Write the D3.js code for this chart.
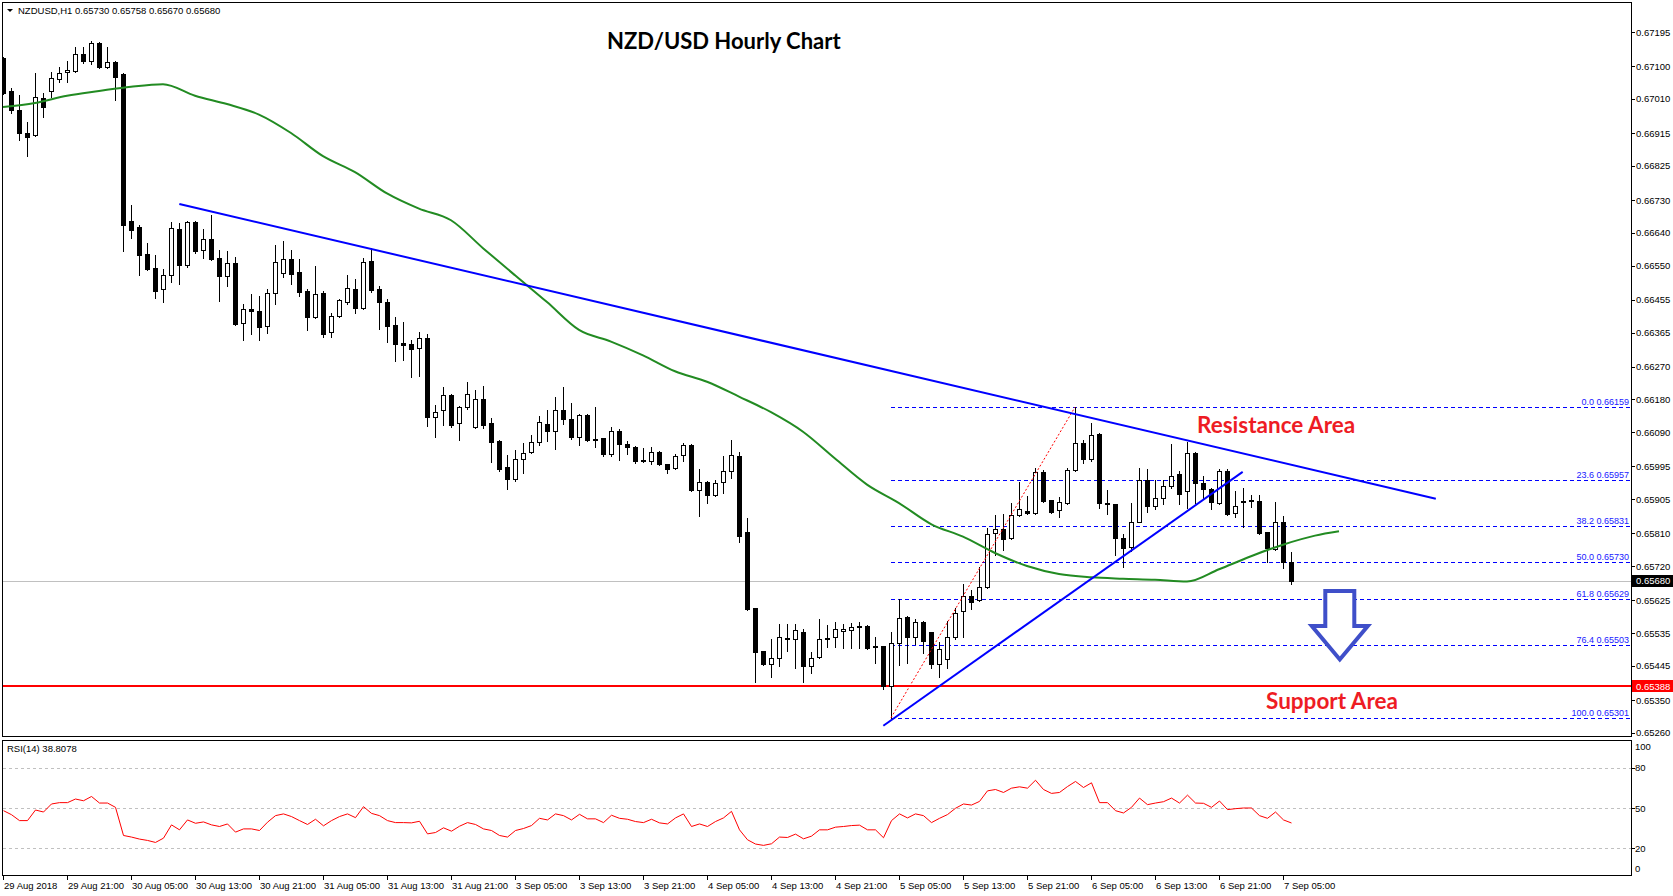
<!DOCTYPE html>
<html>
<head>
<meta charset="utf-8">
<script src="https://cdn.jsdelivr.net/npm/d3@7"></script>
<style>
    body { margin: 0; background: #fff; }
    svg { display: block; }
    text { font-family: "Liberation Sans", Arial, sans-serif; }
</style>
</head>
<body>
<div id="plot"></div>
<script>
/* Step 1
 * Data
 */
// =================================
var opens = [0.67123,0.67032,0.66979,0.66916,0.66910,0.67012,0.67032,0.67065,0.67084,0.67087,
    0.67134,0.67115,0.67164,0.67098,0.67112,0.67079,0.66673,0.66656,0.66581,0.66543,
    0.66485,0.66523,0.66650,0.66551,0.66670,0.66593,0.66623,0.66570,0.66521,0.66557,
    0.66391,0.66430,0.66424,0.66383,0.66474,0.66529,0.66568,0.66532,0.66479,0.66407,
    0.66474,0.66366,0.66410,0.66449,0.66485,0.66432,0.66562,0.66485,0.66449,0.66385,
    0.66336,0.66333,0.66322,0.66349,0.66131,0.66151,0.66192,0.66115,0.66159,0.66104,
    0.66181,0.66115,0.66065,0.65993,0.65960,0.66015,0.66035,0.66062,0.66112,0.66093,
    0.66151,0.66126,0.66076,0.66137,0.66071,0.66073,0.66029,0.66093,0.66057,0.66048,
    0.66013,0.66010,0.66035,0.66002,0.65991,0.66026,0.66054,0.65930,0.65952,0.65916,
    0.65952,0.65982,0.66024,0.65814,0.65604,0.65485,0.65449,0.65466,0.65521,0.65518,
    0.65537,0.65444,0.65468,0.65521,0.65524,0.65540,0.65543,0.65551,0.65554,0.65496,
    0.65499,0.65388,0.65507,0.65579,0.65524,0.65565,0.65537,0.65449,0.65463,0.65524,
    0.65595,0.65637,0.65626,0.65662,0.65811,0.65822,0.65797,0.65861,0.65872,0.65866,
    0.65979,0.65902,0.65874,0.65893,0.65985,0.66059,0.66015,0.66084,0.65894,0.65891,
    0.65797,0.65772,0.65843,0.65958,0.65885,0.65908,0.65941,0.65974,0.65927,0.66032,
    0.65949,0.65932,0.65894,0.65982,0.65866,0.65899,0.65902,0.65899,0.65814,0.65767,
    0.65841,0.65730];
var highs = [0.67126,0.67040,0.67021,0.66946,0.67081,0.67026,0.67084,0.67098,0.67115,0.67153,
    0.67153,0.67170,0.67167,0.67153,0.67115,0.67082,0.66717,0.66662,0.66612,0.66579,
    0.66540,0.66670,0.66667,0.66673,0.66673,0.66650,0.66689,0.66593,0.66590,0.66573,
    0.66443,0.66471,0.66465,0.66485,0.66606,0.66617,0.66593,0.66568,0.66485,0.66548,
    0.66479,0.66418,0.66457,0.66523,0.66512,0.66570,0.66598,0.66493,0.66457,0.66407,
    0.66394,0.66344,0.66366,0.66361,0.66164,0.66214,0.66195,0.66162,0.66228,0.66206,
    0.66217,0.66128,0.66068,0.66026,0.66040,0.66059,0.66082,0.66134,0.66151,0.66186,
    0.66214,0.66170,0.66140,0.66140,0.66159,0.66073,0.66104,0.66098,0.66065,0.66051,
    0.66046,0.66048,0.66037,0.66002,0.66029,0.66059,0.66057,0.65988,0.65954,0.65958,
    0.66024,0.66068,0.66035,0.65852,0.65604,0.65485,0.65518,0.65560,0.65560,0.65560,
    0.65546,0.65482,0.65573,0.65557,0.65565,0.65560,0.65562,0.65565,0.65557,0.65524,
    0.65499,0.65537,0.65629,0.65582,0.65573,0.65568,0.65537,0.65510,0.65568,0.65604,
    0.65670,0.65653,0.65717,0.65825,0.65861,0.65863,0.65894,0.65952,0.65913,0.65990,
    0.65985,0.65902,0.65910,0.65990,0.66159,0.66068,0.66115,0.66087,0.65930,0.65891,
    0.65808,0.65894,0.65990,0.65988,0.65958,0.65958,0.66057,0.65982,0.66062,0.66035,
    0.65968,0.65935,0.65988,0.65988,0.65927,0.65935,0.65916,0.65916,0.65814,0.65896,
    0.65858,0.65758];
var lows = [0.67023,0.66971,0.66896,0.66852,0.66908,0.66960,0.67015,0.67057,0.67057,0.67084,
    0.67109,0.67106,0.67095,0.67095,0.67007,0.66590,0.66626,0.66523,0.66537,0.66460,
    0.66449,0.66504,0.66499,0.66546,0.66585,0.66570,0.66565,0.66452,0.66493,0.66385,
    0.66344,0.66361,0.66344,0.66363,0.66443,0.66518,0.66499,0.66465,0.66372,0.66405,
    0.66352,0.66352,0.66407,0.66443,0.66418,0.66430,0.66476,0.66374,0.66338,0.66286,
    0.66289,0.66242,0.66244,0.66106,0.66076,0.66109,0.66104,0.66068,0.66153,0.66101,
    0.66101,0.66007,0.65982,0.65932,0.65954,0.65977,0.66032,0.66054,0.66065,0.66043,
    0.66112,0.66070,0.66054,0.66065,0.66048,0.66024,0.66024,0.66013,0.66029,0.66005,
    0.66008,0.66002,0.66000,0.65977,0.65988,0.66010,0.65927,0.65858,0.65894,0.65913,
    0.65921,0.65963,0.65786,0.65598,0.65399,0.65446,0.65413,0.65444,0.65485,0.65438,
    0.65399,0.65424,0.65466,0.65496,0.65496,0.65493,0.65493,0.65493,0.65490,0.65452,
    0.65380,0.65301,0.65446,0.65452,0.65504,0.65479,0.65438,0.65413,0.65438,0.65518,
    0.65524,0.65601,0.65623,0.65659,0.65750,0.65764,0.65794,0.65858,0.65863,0.65863,
    0.65896,0.65866,0.65855,0.65891,0.65982,0.66004,0.66010,0.65880,0.65863,0.65750,
    0.65717,0.65761,0.65841,0.65869,0.65877,0.65891,0.65935,0.65891,0.65880,0.65894,
    0.65905,0.65877,0.65891,0.65861,0.65855,0.65827,0.65883,0.65808,0.65731,0.65764,
    0.65714,0.65670];
var closes = [0.67026,0.66979,0.66916,0.66905,0.67015,0.66987,0.67068,0.67081,0.67090,0.67134,
    0.67115,0.67164,0.67098,0.67112,0.67070,0.66662,0.66648,0.66579,0.66540,0.66479,
    0.66523,0.66653,0.66551,0.66670,0.66590,0.66623,0.66568,0.66521,0.66557,0.66388,
    0.66430,0.66424,0.66380,0.66474,0.66559,0.66568,0.66526,0.66476,0.66407,0.66471,
    0.66361,0.66410,0.66454,0.66488,0.66432,0.66559,0.66482,0.66449,0.66383,0.66333,
    0.66330,0.66319,0.66349,0.66131,0.66145,0.66192,0.66109,0.66159,0.66195,0.66181,
    0.66109,0.66062,0.65988,0.65960,0.66015,0.66032,0.66062,0.66117,0.66093,0.66151,
    0.66126,0.66076,0.66137,0.66068,0.66070,0.66029,0.66093,0.66057,0.66048,0.66010,
    0.66010,0.66035,0.66002,0.65988,0.66024,0.66054,0.65930,0.65952,0.65916,0.65949,
    0.65982,0.66026,0.65803,0.65601,0.65482,0.65449,0.65466,0.65524,0.65518,0.65543,
    0.65444,0.65466,0.65518,0.65518,0.65546,0.65546,0.65551,0.65554,0.65493,0.65499,
    0.65388,0.65507,0.65576,0.65524,0.65565,0.65513,0.65449,0.65490,0.65524,0.65590,
    0.65637,0.65620,0.65662,0.65808,0.65822,0.65796,0.65861,0.65877,0.65866,0.65979,
    0.65899,0.65869,0.65896,0.65985,0.66059,0.66015,0.66082,0.65894,0.65891,0.65797,
    0.65770,0.65843,0.65958,0.65885,0.65908,0.65941,0.65968,0.65919,0.66032,0.65949,
    0.65932,0.65896,0.65982,0.65863,0.65885,0.65896,0.65899,0.65811,0.65770,0.65841,
    0.65731,0.65680];

// moving average (green), read every 4 bars, drawn shifted forward
var maBars = [0,4,8,12,16,20,24,28,32,36,40,44,48,52,56,60,64,68,72,76,80,84,
    88,92,96,100,104,108,112,116,120,124,128,132,136,140,144,148,152,156,160,164,167];
var maValues = [0.66988,0.66999,0.67019,0.67032,0.67044,0.67051,0.67019,0.66996,0.66967,0.66916,
    0.66852,0.66808,0.66749,0.66707,0.66675,0.66598,0.66523,0.66449,0.66372,0.66340,
    0.66302,0.66258,0.66229,0.66188,0.66145,0.66091,0.66017,0.65945,0.65894,0.65836,
    0.65801,0.65756,0.65720,0.65698,0.65689,0.65685,0.65682,0.65677,0.65711,0.65747,
    0.65779,0.65804,0.65816];

var rsiValues = [48,45,40.6,40.6,48.5,47,53,54,54,56.7,
    55.4,58.6,53.7,53.7,50.5,29.5,28.3,26.8,25.8,24.3,
    27.5,37.4,33.7,41.1,38.6,39.6,37.4,36.2,38.1,32,
    34.4,34.4,33.2,39.4,44.3,45.6,43.6,40.6,37.7,41.6,
    36.7,40.6,43.6,45.6,42.8,51,46,44.3,40.6,39.1,
    39.1,38.9,40.1,30.7,31.7,35.2,32.7,36.4,39.1,37.7,
    34.4,33.2,29.5,28.3,33.2,34.7,36.9,42.3,41.1,45.6,
    44.3,41.1,45.3,41.9,41.9,39.1,44.6,42.3,41.6,39.9,
    39.1,41.6,38.9,38.1,42.6,45.6,36.2,38.1,36.2,39.9,
    42.6,47.5,33.7,26.3,23.1,22.1,23.3,28.3,28,30.5,
    27,29,33.7,33.7,35.7,36.2,36.9,37.2,33.7,33.7,
    27.8,40.6,45.6,42.6,45.6,44.3,39.1,42.3,45.1,49.8,
    53,52.2,54.9,62.8,63.8,61.6,64.8,65.8,64.8,70.7,
    63.8,60.9,61.6,66,69.8,65.3,68.8,54,54,48,
    46.3,50.5,57.4,52.5,53.7,54.7,57.4,53.7,59.6,53.7,
    53.5,50.5,55.2,48.8,49.5,50,50,44.3,42.3,47,
    41.1,38.8078];

var timeLabels = ["29 Aug 2018","29 Aug 21:00","30 Aug 05:00","30 Aug 13:00","30 Aug 21:00",
    "31 Aug 05:00","31 Aug 13:00","31 Aug 21:00","3 Sep 05:00","3 Sep 13:00","3 Sep 21:00",
    "4 Sep 05:00","4 Sep 13:00","4 Sep 21:00","5 Sep 05:00","5 Sep 13:00","5 Sep 21:00",
    "6 Sep 05:00","6 Sep 13:00","6 Sep 21:00","7 Sep 05:00"];
var priceTicks = [0.67195,0.67100,0.67010,0.66915,0.66825,0.66730,0.66640,0.66550,0.66455,
    0.66365,0.66270,0.66180,0.66090,0.65995,0.65905,0.65810,0.65720,0.65625,0.65535,
    0.65445,0.65350,0.65260];
var rsiLevels = [80, 50, 20];
var rsiLabels = [100, 80, 50, 20, 0];

var fibPct = ["0.0","23.6","38.2","50.0","61.8","76.4","100.0"];
var fibPrices = [0.66159,0.65957,0.65831,0.65730,0.65629,0.65503,0.65301];

var lastPrice = 0.65680;
var supportPrice = 0.65388;
var resistanceLine = [[22.04, 0.66720], [179.1, 0.65906]];
var risingLine = [[110.04, 0.65279], [154.96, 0.65980]];
var fibSwing = [[111, 0.65301], [134, 0.66159]];

/* Step 2
 * Workspace
 */
// =================================
var svgWidth = 1673;
var svgHeight = 896;
var chartLeft = 2, chartRight = 1631;
var mainTop = 2, mainBottom = 737;
var rsiTop = 740, rsiBottom = 875;

var svg = d3.select("#plot")
    .append("svg")
    .attr("width", svgWidth)
    .attr("height", svgHeight);

svg.append("defs").append("clipPath").attr("id", "mainClip")
    .append("rect")
    .attr("x", chartLeft + 1).attr("y", mainTop + 1)
    .attr("width", chartRight - chartLeft - 1).attr("height", mainBottom - mainTop - 1);

// scales
var xScale = d3.scaleLinear().domain([0, 160]).range([3, 1283]);
var yScale = d3.scaleLinear().domain([0.65350, 0.67195]).range([700, 32]);
var rsiScale = d3.scaleLinear().domain([0, 100]).range([875, 741]);

function px(v) { return Math.round(v) + 0.5; }

/* Step 3
 * Frames and axes
 */
// =================================
svg.append("rect")
    .attr("x", chartLeft + 0.5).attr("y", mainTop + 0.5)
    .attr("width", chartRight - chartLeft).attr("height", mainBottom - mainTop - 1)
    .attr("fill", "none").attr("stroke", "#000");
svg.append("rect")
    .attr("x", chartLeft + 0.5).attr("y", rsiTop + 0.5)
    .attr("width", chartRight - chartLeft).attr("height", rsiBottom - rsiTop)
    .attr("fill", "none").attr("stroke", "#000");

var priceAxis = svg.append("g");
priceAxis.selectAll("line")
    .data(priceTicks).enter().append("line")
    .attr("x1", chartRight).attr("x2", chartRight + 4)
    .attr("y1", d => px(yScale(d))).attr("y2", d => px(yScale(d)))
    .attr("stroke", "#000");
priceAxis.selectAll("text")
    .data(priceTicks).enter().append("text")
    .attr("x", chartRight + 5)
    .attr("y", d => yScale(d) + 3.5)
    .attr("font-size", "9.5px")
    .text(d => d.toFixed(5));

var rsiAxis = svg.append("g");
rsiAxis.selectAll("line")
    .data(rsiLevels).enter().append("line")
    .attr("x1", chartRight).attr("x2", chartRight + 4)
    .attr("y1", d => px(rsiScale(d))).attr("y2", d => px(rsiScale(d)))
    .attr("stroke", "#000");
rsiAxis.selectAll("text")
    .data(rsiLabels).enter().append("text")
    .attr("x", chartRight + 4)
    .attr("y", d => Math.max(rsiTop + 6, Math.min(rsiBottom - 7, rsiScale(d))) + 3.5)
    .attr("font-size", "9.5px")
    .text(d => d);

var timeAxis = svg.append("g");
timeAxis.selectAll("line")
    .data(timeLabels).enter().append("line")
    .attr("x1", (d, i) => px(xScale(i * 8))).attr("x2", (d, i) => px(xScale(i * 8)))
    .attr("y1", rsiBottom).attr("y2", rsiBottom + 5)
    .attr("stroke", "#000");
timeAxis.selectAll("text")
    .data(timeLabels).enter().append("text")
    .attr("x", (d, i) => xScale(i * 8) + 1)
    .attr("y", 889)
    .attr("font-size", "9.5px")
    .text(d => d);

/* Step 4
 * Price panel: levels, candles, moving average, objects
 */
// =================================
var main = svg.append("g").attr("clip-path", "url(#mainClip)");

// current price line
main.append("line")
    .attr("x1", chartLeft).attr("x2", chartRight)
    .attr("y1", px(yScale(lastPrice))).attr("y2", px(yScale(lastPrice)))
    .attr("stroke", "#c0c0c0");

// fibonacci levels
var fibStart = xScale(fibSwing[0][0]);
main.selectAll(".fib")
    .data(fibPrices).enter().append("line")
    .attr("x1", fibStart).attr("x2", chartRight)
    .attr("y1", d => px(yScale(d))).attr("y2", d => px(yScale(d)))
    .attr("stroke", "#0000ff")
    .attr("stroke-dasharray", "4,3");
main.selectAll(".fibText")
    .data(fibPrices).enter().append("text")
    .attr("x", chartRight - 2)
    .attr("y", d => yScale(d) - 2)
    .attr("text-anchor", "end")
    .attr("font-size", "9px")
    .attr("fill", "#2020ff")
    .text((d, i) => fibPct[i] + " " + d.toFixed(5));

// support level
main.append("line")
    .attr("x1", chartLeft).attr("x2", chartRight)
    .attr("y1", Math.round(yScale(supportPrice))).attr("y2", Math.round(yScale(supportPrice)))
    .attr("stroke", "#ff0000").attr("stroke-width", 2);

// candles
var bars = d3.range(opens.length);
var candles = main.append("g").selectAll("g")
    .data(bars).enter().append("g");
candles.append("line")
    .attr("x1", i => px(xScale(i))).attr("x2", i => px(xScale(i)))
    .attr("y1", i => Math.round(yScale(highs[i])))
    .attr("y2", i => Math.round(yScale(lows[i])) + 1)
    .attr("stroke", "#000");
candles.append("rect")
    .attr("x", i => px(xScale(i)) - 2)
    .attr("width", 4)
    .attr("y", i => px(yScale(Math.max(opens[i], closes[i]))))
    .attr("height", i => Math.max(1, Math.round(yScale(Math.min(opens[i], closes[i]))) - Math.round(yScale(Math.max(opens[i], closes[i])))))
    .attr("fill", i => closes[i] < opens[i] ? "#000" : "#fff")
    .attr("stroke", "#000");

// moving average
var maLine = d3.line()
    .x((d, i) => xScale(maBars[i]))
    .y(d => yScale(d))
    .curve(d3.curveMonotoneX);
main.append("path")
    .attr("d", maLine(maValues))
    .attr("fill", "none")
    .attr("stroke", "#228b22")
    .attr("stroke-width", 2);

// trend lines
var objLine = d3.line().x(d => xScale(d[0])).y(d => yScale(d[1]));
main.append("path").attr("d", objLine(fibSwing))
    .attr("fill", "none").attr("stroke", "#ff0000").attr("stroke-dasharray", "2,2");
main.append("path").attr("d", objLine(resistanceLine))
    .attr("fill", "none").attr("stroke", "#0000ff").attr("stroke-width", 2);
main.append("path").attr("d", objLine(risingLine))
    .attr("fill", "none").attr("stroke", "#0000ff").attr("stroke-width", 2);

// down arrow
var arrowX = xScale(167.1), arrowTopY = yScale(0.65651), arrowTipY = yScale(0.65462);
var arrowNeck = arrowTopY + (arrowTipY - arrowTopY) * 0.51;
var arrowPts = [[arrowX - 14.5, arrowTopY], [arrowX + 14.5, arrowTopY], [arrowX + 14.5, arrowNeck],
    [arrowX + 28, arrowNeck], [arrowX, arrowTipY], [arrowX - 28, arrowNeck], [arrowX - 14.5, arrowNeck]];
main.append("polygon")
    .attr("points", arrowPts.map(p => p.join(",")).join(" "))
    .attr("fill", "#fff").attr("stroke", "#3f4fc9").attr("stroke-width", 4);

// price labels on the axis
function axisTag(price, bg) {
    var y = yScale(price);
    svg.append("rect").attr("x", chartRight + 1).attr("y", Math.round(y) - 6)
        .attr("width", svgWidth - chartRight - 1).attr("height", 12).attr("fill", bg);
    svg.append("text").attr("x", chartRight + 5).attr("y", y + 3.5)
        .attr("font-size", "9.5px").attr("fill", "#fff").text(price.toFixed(5));
}
axisTag(lastPrice, "#000");
axisTag(supportPrice, "#ff0000");

/* Step 5
 * RSI panel
 */
// =================================
svg.selectAll(".rsiLevel")
    .data(rsiLevels).enter().append("line")
    .attr("x1", chartLeft + 1).attr("x2", chartRight)
    .attr("y1", d => px(rsiScale(d))).attr("y2", d => px(rsiScale(d)))
    .attr("stroke", "#c0c0c0").attr("stroke-dasharray", "3,3");

var rsiLine = d3.line()
    .x((d, i) => xScale(i) + 0.5)
    .y(d => rsiScale(d));
svg.append("path")
    .attr("d", rsiLine(rsiValues))
    .attr("fill", "none")
    .attr("stroke", "#ff0000");

/* Step 6
 * Text
 */
// =================================
svg.append("path").attr("d", "M7,9 L13,9 L10,12 Z").attr("fill", "#000");
svg.append("text").attr("x", 18).attr("y", 14).attr("font-size", "9.5px")
    .text("NZDUSD,H1  " + [opens[161], highs[161], lows[161], closes[161]].map(d => d.toFixed(5)).join(" "));
svg.append("text").attr("x", 7).attr("y", 752).attr("font-size", "9.5px")
    .text("RSI(14) " + rsiValues[rsiValues.length - 1].toFixed(4));

svg.append("text").attr("x", 607).attr("y", 49)
    .style("font-family", "Lato, 'Open Sans', sans-serif")
    .attr("font-weight", "bold").attr("font-size", "22px").attr("fill", "#000")
    .text("NZD/USD Hourly Chart");
svg.append("text").attr("x", 1197).attr("y", 433)
    .style("font-family", "Lato, 'Open Sans', sans-serif")
    .attr("font-weight", "bold").attr("font-size", "22.5px").attr("fill", "#ee1c24")
    .text("Resistance Area");
svg.append("text").attr("x", 1266).attr("y", 709)
    .style("font-family", "Lato, 'Open Sans', sans-serif")
    .attr("font-weight", "bold").attr("font-size", "22.5px").attr("fill", "#ee1c24")
    .text("Support Area");
</script>
</body>
</html>
